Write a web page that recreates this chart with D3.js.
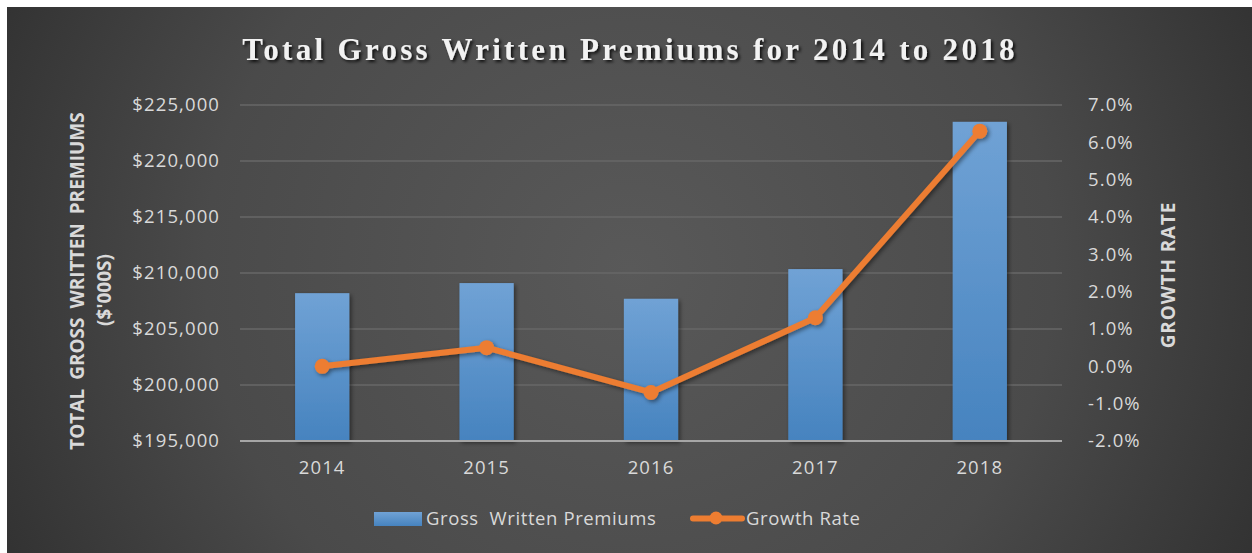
<!DOCTYPE html>
<html>
<head>
<meta charset="utf-8">
<script src="https://cdn.jsdelivr.net/npm/d3@7"></script>
<style>
  html, body { margin: 0; padding: 0; background: #ffffff; }
  svg { display: block; }
</style>
</head>
<body>
<div id="chart"></div>
<script>
// Chart data
const years = ["2014", "2015", "2016", "2017", "2018"];
const premiums = [208200, 209100, 207700, 210350, 223500];   // $'000s
const growthRates = [0.0, 0.5, -0.7, 1.3, 6.3];               // percent
const premiumTicks = [195000, 200000, 205000, 210000, 215000, 220000, 225000];
const growthTicks = [-2, -1, 0, 1, 2, 3, 4, 5, 6, 7];

const W = 1252, H = 553;
const plot = { left: 240, right: 1062, top: 105, bottom: 441 };

const svg = d3.select("#chart").append("svg")
  .attr("width", W).attr("height", H);

const defs = svg.append("defs");

// Dark background with lighter centre
const bg = defs.append("radialGradient").attr("id", "bgGrad")
  .attr("cx", "50%").attr("cy", "48%").attr("r", "62%")
  .attr("gradientTransform", "translate(0.5,0.48) scale(1,2.2) translate(-0.5,-0.48)");
bg.append("stop").attr("offset", "0%").attr("stop-color", "#595959");
bg.append("stop").attr("offset", "55%").attr("stop-color", "#4a4a4a");
bg.append("stop").attr("offset", "100%").attr("stop-color", "#2b2b2b");

const barGrad = defs.append("linearGradient").attr("id", "barGrad")
  .attr("x1", 0).attr("y1", 0).attr("x2", 0).attr("y2", 1);
barGrad.append("stop").attr("offset", "0%").attr("stop-color", "#70a2d5");
barGrad.append("stop").attr("offset", "100%").attr("stop-color", "#4683bf");

const shadow = defs.append("filter").attr("id", "shadow")
  .attr("x", "-20%").attr("y", "-20%").attr("width", "150%").attr("height", "150%");
shadow.append("feDropShadow").attr("dx", 2).attr("dy", 2).attr("stdDeviation", 2.2)
  .attr("flood-color", "#000").attr("flood-opacity", 0.45);

const titleShadow = defs.append("filter").attr("id", "titleShadow")
  .attr("x", "-5%").attr("y", "-30%").attr("width", "110%").attr("height", "160%");
titleShadow.append("feDropShadow").attr("dx", 2).attr("dy", 2).attr("stdDeviation", 1.8)
  .attr("flood-color", "#000").attr("flood-opacity", 0.8);

svg.append("rect").attr("x", 7).attr("y", 7).attr("width", W - 7).attr("height", H - 7)
  .attr("fill", "url(#bgGrad)");

// Scales
const x = d3.scaleBand().domain(years).range([plot.left, plot.right]).paddingInner(0.67).paddingOuter(0.335);
const xc = d3.scaleBand().domain(years).range([plot.left, plot.right]);
const yL = d3.scaleLinear().domain([195000, 225000]).range([plot.bottom, plot.top]);
const yR = d3.scaleLinear().domain([-2, 7]).range([plot.bottom, plot.top]);

// Gridlines
svg.append("g").selectAll("line").data(premiumTicks.filter(d => d !== 195000)).join("line")
  .attr("x1", plot.left).attr("x2", plot.right)
  .attr("y1", d => yL(d)).attr("y2", d => yL(d))
  .attr("stroke", "#676767").attr("stroke-width", 1.5);

const fontSans = "'Open Sans', 'Noto Sans', sans-serif";
const tickStyle = sel => sel.attr("fill", "#d9d9d9").style("font-family", fontSans)
  .style("font-size", "18.5px").style("letter-spacing", "1.1px");

// Left axis
const leftAxis = svg.append("g").attr("transform", `translate(${plot.left},0)`)
  .call(d3.axisLeft(yL).tickValues(premiumTicks).tickSize(0).tickPadding(20)
    .tickFormat(d => "$" + d3.format(",")(d)));
leftAxis.select(".domain").remove();
leftAxis.selectAll("text").call(tickStyle);

// Right axis (plain hyphen for negatives)
const rightAxis = svg.append("g").attr("transform", `translate(${plot.right},0)`)
  .call(d3.axisRight(yR).tickValues(growthTicks).tickSize(0).tickPadding(26)
    .tickFormat(d => (d < 0 ? "-" : "") + Math.abs(d).toFixed(1) + "%"));
rightAxis.select(".domain").remove();
rightAxis.selectAll("text").call(tickStyle);

// Bottom axis
const bottomAxis = svg.append("g").attr("transform", `translate(0,${plot.bottom})`)
  .call(d3.axisBottom(xc).tickSize(0).tickPadding(20));
bottomAxis.select(".domain").remove();
bottomAxis.selectAll("text").call(tickStyle);

// Bars
svg.append("g").selectAll("rect").data(years).join("rect")
  .attr("x", d => x(d)).attr("width", x.bandwidth())
  .attr("y", (d, i) => yL(premiums[i]))
  .attr("height", (d, i) => plot.bottom - yL(premiums[i]))
  .attr("fill", "url(#barGrad)")
  .attr("filter", "url(#shadow)");

// Axis baseline
svg.append("line").attr("x1", plot.left).attr("x2", plot.right)
  .attr("y1", plot.bottom).attr("y2", plot.bottom)
  .attr("stroke", "#a6a6a6").attr("stroke-width", 2);

// Growth line
const orange = "#ed7d31";
const lineGen = d3.line().x((d, i) => xc(years[i]) + xc.bandwidth() / 2).y(d => yR(d));
const lineG = svg.append("g").attr("filter", "url(#shadow)");
lineG.append("path").datum(growthRates).attr("d", lineGen)
  .attr("fill", "none").attr("stroke", orange).attr("stroke-width", 6)
  .attr("stroke-linejoin", "round").attr("stroke-linecap", "round");
lineG.selectAll("circle").data(growthRates).join("circle")
  .attr("cx", (d, i) => xc(years[i]) + xc.bandwidth() / 2)
  .attr("cy", d => yR(d)).attr("r", 7.5)
  .attr("fill", orange);

// Title
svg.append("text").attr("x", 630).attr("y", 60).attr("text-anchor", "middle")
  .attr("fill", "#f2f2f2").attr("filter", "url(#titleShadow)")
  .style("font-family", "'Liberation Serif', 'Times New Roman', serif")
  .style("font-weight", "bold").style("font-size", "31px").style("letter-spacing", "3.3px")
  .text("Total Gross Written Premiums for 2014 to 2018");

// Axis titles
const axisTitleStyle = sel => sel.attr("fill", "#d9d9d9").attr("text-anchor", "middle")
  .style("font-family", fontSans).style("font-weight", "bold").style("font-size", "19px");

svg.append("text").attr("transform", "translate(84,281) rotate(-90)")
  .call(axisTitleStyle).style("word-spacing", "4px").text("TOTAL GROSS WRITTEN PREMIUMS");
svg.append("text").attr("transform", "translate(111,290) rotate(-90)")
  .call(axisTitleStyle).text("($'000S)");
svg.append("text").attr("transform", "translate(1175,275) rotate(-90)")
  .call(axisTitleStyle).style("letter-spacing", "0.8px").text("GROWTH RATE");

// Legend
const legendText = sel => sel.attr("fill", "#d9d9d9").style("font-family", fontSans)
  .style("font-size", "18.5px").style("letter-spacing", "0.6px");
const legend = svg.append("g");
legend.append("rect").attr("x", 374).attr("y", 512).attr("width", 48).attr("height", 14)
  .attr("fill", "url(#barGrad)");
legend.append("text").attr("x", 426).attr("y", 525).call(legendText)
  .style("white-space", "pre").text("Gross  Written Premiums");
legend.append("line").attr("x1", 693).attr("x2", 742).attr("y1", 518.5).attr("y2", 518.5)
  .attr("stroke", orange).attr("stroke-width", 6).attr("stroke-linecap", "round");
legend.append("circle").attr("cx", 716).attr("cy", 518).attr("r", 6.5).attr("fill", orange);
legend.append("text").attr("x", 746).attr("y", 525).call(legendText)
  .text("Growth Rate");
</script>
</body>
</html>
